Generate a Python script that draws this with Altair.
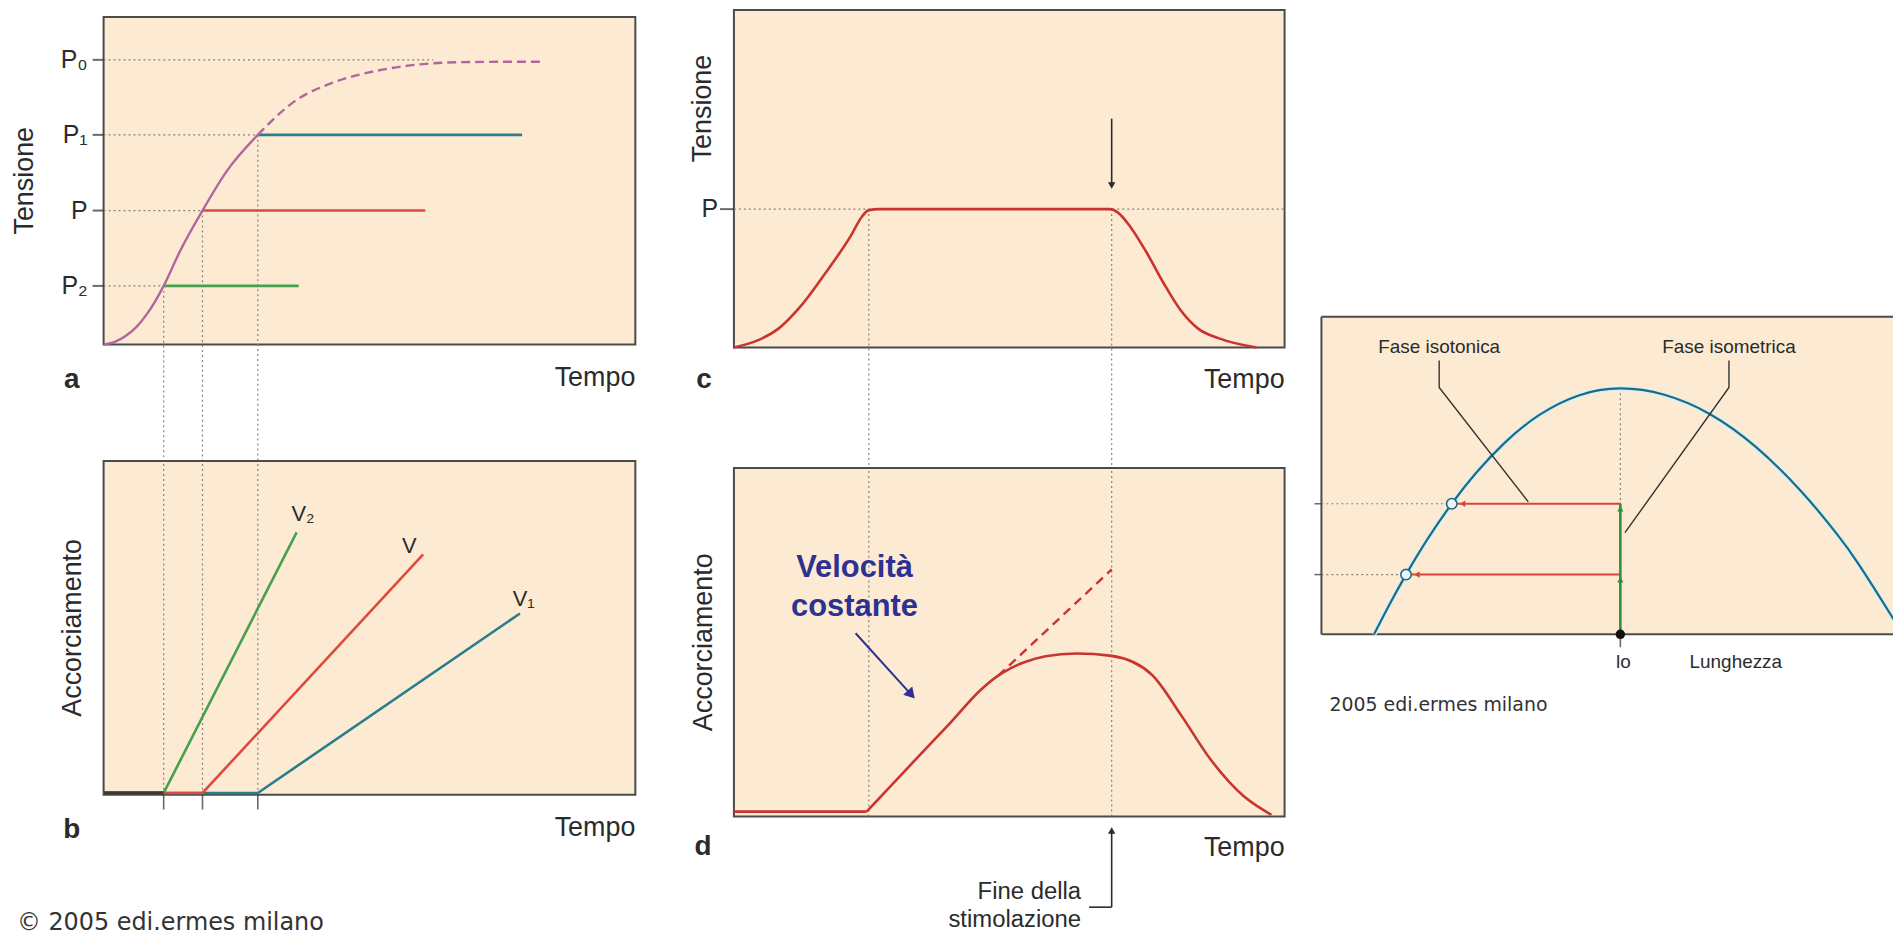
import altair as alt
import pandas as pd

# ---------------- values ----------------
# a: tension (0-100) vs time (0-10), isotonic loads
A_TIME = [0.0, 0.21, 0.42, 0.62, 0.81, 0.97, 1.13, 1.44, 1.86, 2.31, 2.90, 3.57, 4.36, 5.15, 5.93, 6.72, 7.50, 8.28]
A_TENSION = [0.0, 0.8, 2.7, 5.4, 9.2, 13.2, 17.9, 28.6, 40.9, 52.8, 64.0, 74.0, 80.2, 83.6, 85.5, 86.2, 86.3, 86.3]
A_SOLID_UNTIL = 2.90
A_LEVEL_NAMES = ["P₀", "P₁", "P", "P₂"]
A_LEVEL_VALUES = [86.9, 64.0, 40.9, 17.9]
A_LEVEL_REACHED = [6.2, 2.90, 1.86, 1.13]
LOAD_ONSET = [2.90, 1.86, 1.13]          # P1, P, P2
LOAD_TENSION = [64.0, 40.9, 17.9]
LOAD_END = [7.87, 6.05, 3.67]
A_DROP_TO = -35.6                         # guide lines run down to panel b

# b: shortening (0-100) vs time
V_NAMES = ["V₁", "V", "V₂"]
V_END_TIME = [7.83, 6.01, 3.63]
V_END_SHORT = [54.3, 72.0, 78.6]
V_LABEL_TIME = [7.90, 5.75, 3.75]
V_LABEL_SHORT = [58.5, 74.5, 84.0]
V_REST = 0.5

# c: tension vs time
C_TIME = [0.0, 0.43, 0.81, 1.19, 1.65, 2.12, 2.33, 2.45, 2.64, 6.83, 6.98, 7.21, 7.51, 7.81, 8.12, 8.43, 8.81, 9.49]
C_TENSION = [0.0, 2.1, 5.6, 11.8, 21.8, 33.0, 38.9, 40.7, 41.0, 41.0, 39.9, 35.5, 27.7, 18.9, 10.9, 5.6, 2.7, 0.0]
C_P = 41.0
C_MARKS = [2.45, 6.86]                    # load reached, end of stimulation
C_DROP_TO = -35.7
C_ARROW = [67.8, 48.0]

# d: shortening vs time
D_REST_TIME = [0.0, 2.41]
D_REST = 1.4
D_TIME = [2.41, 3.17, 3.93, 4.48, 4.76, 5.03, 5.30, 5.66, 6.22, 6.86, 7.59, 8.12, 8.65, 9.26, 9.76]
D_SHORT = [1.4, 14.2, 26.9, 36.3, 40.0, 42.6, 44.4, 46.0, 46.8, 46.1, 40.7, 29.1, 16.5, 5.8, 0.5]
D_EXTRAP_TIME = [4.80, 6.86]
D_EXTRAP_SHORT = [40.4, 70.9]
D_NOTE_TIME = 2.19
D_NOTE_SHORT = [68.6, 57.4]
D_NOTE_ARROW = [2.21, 52.6, 3.22, 35.0]
D_STIM_ARROW = [-4.0, -26.0, 6.45]

# e: tension vs length
E_LEN = [9.2, 12.0, 14.8, 18.5, 22.8, 27.0, 32.0, 38.0, 45.0, 52.3, 60.0, 68.0, 76.0, 84.0, 90.0, 94.1, 99.8, 102.0]
E_TENSION = [0.0, 9.7, 18.8, 29.8, 41.1, 50.7, 60.2, 68.9, 75.2, 77.4, 75.4, 69.3, 59.0, 44.9, 32.0, 21.8, 5.6, -1.0]
E_LO = 52.3
E_PEAK = 77.4
E_LOADS = [41.1, 18.8]
E_CIRCLE_LEN = [22.8, 14.8]
E_LABELS = ["Fase isotonica", "Fase isometrica"]
E_LABEL_LEN = [20.6, 71.3]
E_LABEL_T = 90.3
E_LEADER_LEN = [[20.6, 20.6, 36.2], [71.3, 71.3, 53.1]]
E_LEADER_T = [[86.2, 77.7, 41.7], [86.2, 77.7, 32.0]]

# ---------------- styles ----------------
PEACH = "#fcead2"
BORDER = "#4b4b4b"
GRID = "#8a8076"
INK = "#2b2b2b"
MAUVE = "#b2669f"
LOAD_COLORS = ["#2b7d8d", "#dd4a3f", "#47a04e"]
DARKRED = "#c93430"
NAVY = "#2e3192"
TEAL = "#1d6b82"
FONT = "Liberation Sans"
CFONT = "DejaVu Sans"
DOT = [2, 3]


def sc(dom, rng):
    return alt.Scale(domain=dom, range=rng, nice=False, zero=False)


def exy(sx, sy):
    return dict(x=alt.X("x:Q", scale=sx, axis=None), y=alt.Y("y:Q", scale=sy, axis=None))


def rect(df, sx, sy, **mk):
    return alt.Chart(df).mark_rect(**mk).encode(**exy(sx, sy), x2="x2:Q", y2="y2:Q")


def hrule(df, sx, sy, color=None, **mk):
    e = exy(sx, sy)
    if color:
        e["color"] = alt.Color(f"{color}:N", scale=None)
    return alt.Chart(df).mark_rule(**mk).encode(**e, x2="x2:Q")


def vrule(df, sx, sy, **mk):
    return alt.Chart(df).mark_rule(**mk).encode(**exy(sx, sy), y2="y2:Q")


def seg(df, sx, sy, **mk):
    return alt.Chart(df).mark_rule(**mk).encode(**exy(sx, sy), x2="x2:Q", y2="y2:Q")


def line(df, sx, sy, extra=None, **mk):
    e = exy(sx, sy)
    e.update(extra or {})
    return alt.Chart(df).mark_line(**mk).encode(**e)


def pts(df, sx, sy, **mk):
    return alt.Chart(df).mark_point(**mk).encode(**exy(sx, sy))


def ticks(df, sx, sy, **mk):
    return alt.Chart(df).mark_tick(**mk).encode(**exy(sx, sy))


def txt(df, sx, sy, field=None, **mk):
    e = exy(sx, sy)
    if field:
        e["text"] = alt.Text(f"{field}:N")
    return alt.Chart(df).mark_text(**mk).encode(**e)


def one(x, y):
    return pd.DataFrame({"x": [x], "y": [y]})


def box(xmax, ymax):
    return pd.DataFrame({"x": [0], "x2": [xmax], "y": [0], "y2": [ymax]})


LBL = dict(font=FONT, fontSize=27, color=INK, baseline="middle")
TAG = dict(font=FONT, fontSize=28, fontWeight="bold", color=INK, baseline="middle", align="center")

# ---------------- panel a ----------------
sxA, syA = sc([0, 10], [96, 630]), sc([0, 100], [336, 7])
curveA = pd.DataFrame({"x": A_TIME, "y": A_TENSION})
levels = pd.DataFrame({"x": 0.0, "x2": A_LEVEL_REACHED, "y": A_LEVEL_VALUES, "name": A_LEVEL_NAMES})
drops = pd.DataFrame({"x": LOAD_ONSET, "y": LOAD_TENSION, "y2": A_DROP_TO})
loads = pd.DataFrame({"x": LOAD_ONSET, "x2": LOAD_END, "y": LOAD_TENSION, "c": LOAD_COLORS})

panelA = alt.layer(
    rect(box(10, 100), sxA, syA, fill=PEACH, stroke=BORDER, strokeWidth=2),
    hrule(levels, sxA, syA, stroke=GRID, strokeDash=DOT, strokeWidth=1.2),
    vrule(drops, sxA, syA, stroke=GRID, strokeDash=DOT, strokeWidth=1.2),
    hrule(loads, sxA, syA, color="c", strokeWidth=2.6),
    line(curveA[curveA.x <= A_SOLID_UNTIL], sxA, syA, color=MAUVE, strokeWidth=2.4, interpolate="monotone"),
    line(curveA[curveA.x >= A_SOLID_UNTIL], sxA, syA, color=MAUVE, strokeWidth=2.4,
         strokeDash=[9, 5], interpolate="monotone"),
    ticks(levels, sxA, syA, orient="horizontal", size=11, thickness=2, xOffset=-5.5, color=INK),
    txt(levels, sxA, syA, "name", font=FONT, fontSize=25, color=INK, align="right",
        baseline="middle", xOffset=-16),
    txt(one(0, 50), sxA, syA, text="Tensione", angle=270, align="center", xOffset=-79, **LBL),
    txt(one(0, 0), sxA, syA, text="a", xOffset=-32, yOffset=36, **TAG),
    txt(one(10, 0), sxA, syA, text="Tempo", align="right", yOffset=34, **LBL),
)

# ---------------- panel b ----------------
sxB, syB = sc([0, 10], [96, 630]), sc([0, 100], [788, 453])
rows = []
for n, s, et, es, c in zip(V_NAMES, LOAD_ONSET, V_END_TIME, V_END_SHORT, LOAD_COLORS):
    rows += [dict(name=n, c=c, x=0.0, y=V_REST), dict(name=n, c=c, x=s, y=V_REST), dict(name=n, c=c, x=et, y=es)]
vlines = pd.DataFrame(rows)
vlabels = pd.DataFrame({"x": V_LABEL_TIME, "y": V_LABEL_SHORT, "name": V_NAMES})
guidesB = pd.DataFrame({"x": LOAD_ONSET, "y": 0.0, "y2": 100.0})

panelB = alt.layer(
    rect(box(10, 100), sxB, syB, fill=PEACH, stroke=BORDER, strokeWidth=2),
    vrule(guidesB, sxB, syB, stroke=GRID, strokeDash=DOT, strokeWidth=1.2),
    line(vlines, sxB, syB, extra={"color": alt.Color("c:N", scale=None), "detail": "name:N"}, strokeWidth=2.6),
    hrule(pd.DataFrame({"x": [0.0], "x2": [min(LOAD_ONSET)], "y": [V_REST]}), sxB, syB,
          stroke="#3a3a3a", strokeWidth=3.5),
    ticks(guidesB.assign(y=0.0), sxB, syB, orient="vertical", size=15, thickness=1.6, yOffset=7.5, color=INK),
    txt(vlabels, sxB, syB, "name", font=FONT, fontSize=22, color=INK, align="center", baseline="middle"),
    txt(one(0, 50), sxB, syB, text="Accorciamento", angle=270, align="center", xOffset=-31, **LBL),
    txt(one(0, 0), sxB, syB, text="b", xOffset=-32, yOffset=36, **TAG),
    txt(one(10, 0), sxB, syB, text="Tempo", align="right", yOffset=34, **LBL),
    txt(one(0, 0), sxB, syB, text="© 2005 edi.ermes milano", font=CFONT, fontSize=24, color="#333333",
        align="left", baseline="alphabetic", xOffset=-87, yOffset=136),
)

# ---------------- panel c ----------------
sxC, syC = sc([0, 10], [729, 1282]), sc([0, 100], [339, 0])
curveC = pd.DataFrame({"x": C_TIME, "y": C_TENSION})
panelC = alt.layer(
    rect(box(10, 100), sxC, syC, fill=PEACH, stroke=BORDER, strokeWidth=2),
    hrule(pd.DataFrame({"x": [0.0], "x2": [10.0], "y": [C_P]}), sxC, syC, stroke=GRID, strokeDash=DOT, strokeWidth=1.2),
    vrule(pd.DataFrame({"x": C_MARKS, "y": C_P, "y2": C_DROP_TO}), sxC, syC, stroke=GRID, strokeDash=DOT, strokeWidth=1.2),
    line(curveC, sxC, syC, color=DARKRED, strokeWidth=2.6, interpolate="monotone"),
    vrule(pd.DataFrame({"x": [C_MARKS[1]], "y": [C_ARROW[0]], "y2": [C_ARROW[1]]}), sxC, syC, stroke=INK, strokeWidth=1.6),
    pts(one(C_MARKS[1], C_ARROW[1]), sxC, syC, shape="triangle-down", filled=True, size=55, color=INK, opacity=1),
    ticks(one(0, C_P), sxC, syC, orient="horizontal", size=14, thickness=2, xOffset=-7, color=INK),
    txt(one(0, C_P), sxC, syC, text="P", font=FONT, fontSize=25, color=INK, align="right", baseline="middle", xOffset=-16),
    txt(one(0, 70.8), sxC, syC, text="Tensione", angle=270, align="center", xOffset=-31, **LBL),
    txt(one(0, 0), sxC, syC, text="c", xOffset=-30, yOffset=33, **TAG),
    txt(one(10, 0), sxC, syC, text="Tempo", align="right", yOffset=33, **LBL),
)

# ---------------- panel d ----------------
sxD, syD = sc([0, 10], [729, 1282]), sc([0, 100], [810, 460])
curveD = pd.DataFrame({"x": D_TIME, "y": D_SHORT})
restD = pd.DataFrame({"x": D_REST_TIME, "y": D_REST})
extrap = pd.DataFrame({"x": D_EXTRAP_TIME, "y": D_EXTRAP_SHORT})
ax, ay, bx, by = D_NOTE_ARROW
tip, hook_y, hook_x = D_STIM_ARROW
panelD = alt.layer(
    rect(box(10, 100), sxD, syD, fill=PEACH, stroke=BORDER, strokeWidth=2),
    vrule(pd.DataFrame({"x": C_MARKS, "y": 0.0, "y2": 100.0}), sxD, syD, stroke=GRID, strokeDash=DOT, strokeWidth=1.2),
    line(extrap, sxD, syD, color=DARKRED, strokeWidth=2.4, strokeDash=[9, 6]),
    line(restD, sxD, syD, color=DARKRED, strokeWidth=2.6),
    line(curveD, sxD, syD, color=DARKRED, strokeWidth=2.6, interpolate="monotone"),
    txt(pd.DataFrame({"x": D_NOTE_TIME, "y": D_NOTE_SHORT, "t": ["Velocità", "costante"]}), sxD, syD, "t",
        font=FONT, fontSize=31, fontWeight="bold", color=NAVY, align="center", baseline="alphabetic"),
    seg(pd.DataFrame({"x": [ax], "y": [ay], "x2": [bx], "y2": [by]}), sxD, syD, stroke=NAVY, strokeWidth=2),
    pts(one(bx, by), sxD, syD, shape="triangle-up", angle=138, filled=True, size=150, color=NAVY, opacity=1),
    vrule(pd.DataFrame({"x": [C_MARKS[1]], "y": [tip], "y2": [hook_y]}), sxD, syD, stroke=INK, strokeWidth=1.6),
    hrule(pd.DataFrame({"x": [hook_x], "x2": [C_MARKS[1]], "y": [hook_y]}), sxD, syD, stroke=INK, strokeWidth=1.6),
    pts(one(C_MARKS[1], tip), sxD, syD, shape="triangle-up", filled=True, size=55, color=INK, opacity=1),
    txt(one(hook_x, hook_y), sxD, syD, text="Fine della", font=FONT, fontSize=24, color=INK,
        align="right", baseline="alphabetic", xOffset=-8, yOffset=-8),
    txt(one(hook_x, hook_y), sxD, syD, text="stimolazione", font=FONT, fontSize=24, color=INK,
        align="right", baseline="alphabetic", xOffset=-8, yOffset=20),
    txt(one(0, 50), sxD, syD, text="Accorciamento", angle=270, align="center", xOffset=-30, **LBL),
    txt(one(0, 0), sxD, syD, text="d", xOffset=-31, yOffset=31, **TAG),
    txt(one(10, 0), sxD, syD, text="Tempo", align="right", yOffset=32, **LBL),
)

# ---------------- panel e ----------------
sxE, syE = sc([0, 100], [1319, 1893]), sc([0, 100], [627, 308])
curveE = pd.DataFrame({"x": E_LEN, "y": E_TENSION})
loadsE = pd.DataFrame({"x": 0.0, "x2": E_CIRCLE_LEN, "y": E_LOADS})
redE = pd.DataFrame({"x": [c + 1.0 for c in E_CIRCLE_LEN], "x2": E_LO, "y": E_LOADS})
leaders = pd.DataFrame([dict(k=k, i=i, x=lx, y=ly)
                        for k in range(2) for i, (lx, ly) in enumerate(zip(E_LEADER_LEN[k], E_LEADER_T[k]))])
RED_E, GREEN_E = "#d9443a", "#2f8f3a"
panelE = alt.layer(
    rect(box(103, 100), sxE, syE, fill=PEACH),
    hrule(pd.DataFrame({"x": [0.0, 0.0], "x2": [103.0, 103.0], "y": [0.0, 100.0]}), sxE, syE, stroke=BORDER, strokeWidth=2),
    vrule(pd.DataFrame({"x": [0.0], "y": [0.0], "y2": [100.0]}), sxE, syE, stroke=BORDER, strokeWidth=2),
    hrule(loadsE, sxE, syE, stroke=GRID, strokeDash=DOT, strokeWidth=1.2),
    vrule(pd.DataFrame({"x": [E_LO], "y": [0.0], "y2": [E_PEAK]}), sxE, syE, stroke=GRID, strokeDash=DOT, strokeWidth=1.2),
    line(curveE, sxE, syE, color="#d7f0f6", strokeWidth=5, interpolate="natural"),
    line(curveE, sxE, syE, color=TEAL, strokeWidth=2.2, interpolate="natural"),
    hrule(redE, sxE, syE, stroke=RED_E, strokeWidth=2),
    pts(pd.DataFrame({"x": [c + 1.9 for c in E_CIRCLE_LEN], "y": E_LOADS}), sxE, syE,
        shape="triangle-left", filled=True, size=40, color=RED_E, opacity=1),
    vrule(pd.DataFrame({"x": [E_LO], "y": [0.0], "y2": [max(E_LOADS)]}), sxE, syE, stroke=GREEN_E, strokeWidth=2.6),
    pts(pd.DataFrame({"x": E_LO, "y": [v - 1.6 for v in E_LOADS]}), sxE, syE,
        shape="triangle-up", filled=True, size=40, color=GREEN_E, opacity=1),
    pts(pd.DataFrame({"x": E_CIRCLE_LEN, "y": E_LOADS}), sxE, syE, shape="circle", filled=True,
        size=110, fill="#e8f6fb", stroke=TEAL, strokeWidth=1.6, opacity=1, fillOpacity=1),
    ticks(pd.DataFrame({"x": 0.0, "y": E_LOADS}), sxE, syE, orient="horizontal", size=7, thickness=1.5, xOffset=-3.5, color=INK),
    ticks(one(E_LO, 0), sxE, syE, orient="vertical", size=13, thickness=1.6, yOffset=6.5, color=INK),
    pts(one(E_LO, 0), sxE, syE, shape="circle", filled=True, size=90, color="#111111", opacity=1),
    line(leaders, sxE, syE, extra={"detail": "k:N", "order": "i:Q"}, color="#333333", strokeWidth=1.4),
    txt(pd.DataFrame({"x": E_LABEL_LEN, "y": E_LABEL_T, "t": E_LABELS}), sxE, syE, "t",
        font=FONT, fontSize=19, color=INK, align="center", baseline="middle"),
    txt(one(E_LO, 0), sxE, syE, text="lo", font=FONT, fontSize=19, color=INK, align="center",
        baseline="middle", xOffset=3, yOffset=28),
    txt(one(72.5, 0), sxE, syE, text="Lunghezza", font=FONT, fontSize=19, color=INK, align="center",
        baseline="middle", yOffset=28),
    txt(one(0, 0), sxE, syE, text="2005 edi.ermes milano", font=CFONT, fontSize=19, color="#333333",
        align="left", baseline="alphabetic", xOffset=8, yOffset=77),
)

chart = (
    alt.layer(panelA, panelB, panelC, panelD, panelE)
    .resolve_scale(x="independent", y="independent")
    .properties(width=1893, height=928, padding=0, autosize=alt.AutoSizeParams(type="none"),
                background="white")
    .configure_view(stroke=None)
)

chart.save("out.html", embed_options={"renderer": "svg", "actions": False})
